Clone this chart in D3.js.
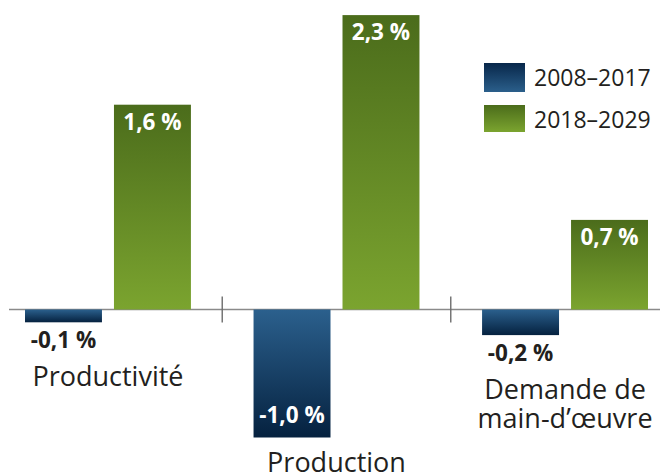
<!DOCTYPE html>
<html><head><meta charset="utf-8">
<script src="https://cdn.jsdelivr.net/npm/d3@7"></script>
<style>html,body{margin:0;padding:0;background:#fff;}svg{display:block;}</style>
</head><body>
<svg id="chart" width="660" height="475"></svg>
<script>
const categories = ["Productivité", "Production", "Demande de\nmain-d’œuvre"];
const series = ["2008–2017", "2018–2029"];
const values2008 = [-0.1, -1.0, -0.2];
const values2018 = [1.6, 2.3, 0.7];
const valueLabels2008 = ["-0,1 %", "-1,0 %", "-0,2 %"];
const valueLabels2018 = ["1,6 %", "2,3 %", "0,7 %"];

const svg = d3.select("#chart");
const W = 660, H = 475;
const textColor = "#231f20";
const font = "'Open Sans', sans-serif";

const defs = svg.append("defs");
function grad(id, top, bottom) {
  const g = defs.append("linearGradient").attr("id", id).attr("x1", 0).attr("y1", 0).attr("x2", 0).attr("y2", 1);
  g.append("stop").attr("offset", "0%").attr("stop-color", top);
  g.append("stop").attr("offset", "100%").attr("stop-color", bottom);
}
grad("blueNeg", "#2b608d", "#05213f");
grad("blueLeg", "#08274a", "#2b5f8b");
grad("green", "#4b6c1b", "#7ba42f");

const y = d3.scaleLinear().domain([0, 1]).range([309.5, 181.5]);
const x0 = d3.scaleBand().domain(categories).range([25, 648]).paddingInner(0.274).paddingOuter(0);
const x1 = d3.scaleBand().domain(series).range([0, x0.bandwidth()]).paddingInner(0.135);

const data = categories.map((c, i) => ({
  cat: c,
  bars: [
    { s: series[0], v: values2008[i], label: valueLabels2008[i] },
    { s: series[1], v: values2018[i], label: valueLabels2018[i] }
  ]
}));

// axis baseline
svg.append("line").attr("x1", 9).attr("x2", W).attr("y1", y(0)).attr("y2", y(0))
  .attr("stroke", "#8a8a8a").attr("stroke-width", 1.6);

// separator ticks between groups
const step = x0.step();
categories.slice(0, -1).forEach(c => {
  const tx = x0(c) + x0.bandwidth() + (step - x0.bandwidth()) / 2;
  svg.append("line").attr("x1", tx).attr("x2", tx).attr("y1", y(0) - 13).attr("y2", y(0) + 13)
    .attr("stroke", "#6d6d6d").attr("stroke-width", 1.4);
});

const groups = svg.selectAll("g.grp").data(data).join("g").attr("class", "grp")
  .attr("transform", d => `translate(${x0(d.cat)},0)`);

groups.selectAll("rect").data(d => d.bars).join("rect")
  .attr("x", b => x1(b.s))
  .attr("width", x1.bandwidth())
  .attr("y", b => b.v >= 0 ? y(b.v) : y(0))
  .attr("height", b => Math.abs(y(b.v) - y(0)))
  .attr("fill", b => b.v >= 0 ? "url(#green)" : "url(#blueNeg)");

// value labels
groups.each(function(d) {
  const g = d3.select(this);
  let labelY = y(0) + 38;
  d.bars.forEach(b => {
    const h = Math.abs(y(b.v) - y(0));
    const cx = x1(b.s) + x1.bandwidth() / 2;
    let ty, fill;
    if (b.v >= 0) {
      ty = y(b.v) + 25; fill = "#fff";
    } else if (h > 40) {
      ty = y(b.v) - 15; fill = "#fff";
      labelY = Math.max(labelY, y(b.v) + 34);
    } else {
      ty = y(b.v) + 26; fill = textColor;
      labelY = Math.max(labelY, ty + 38);
    }
    g.append("text").attr("x", cx).attr("y", ty).attr("text-anchor", "middle")
      .attr("font-family", font).attr("font-weight", "bold").attr("font-size", 22.5)
      .attr("fill", fill).text(b.label);
  });
  // category label
  const lines = d.cat.split("\n");
  const t = g.append("text").attr("text-anchor", "middle")
    .attr("font-family", font).attr("font-size", 27).attr("fill", textColor);
  lines.forEach((ln, i) => {
    t.append("tspan").attr("x", x0.bandwidth() / 2).attr("y", labelY + i * 28.5).text(ln);
  });
});

// legend
const legend = svg.append("g").attr("transform", "translate(484,63)");
series.forEach((s, i) => {
  const gy = i * 42;
  legend.append("rect").attr("x", 0).attr("y", gy).attr("width", 41).attr("height", i === 0 ? 29 : 27)
    .attr("fill", i === 0 ? "url(#blueLeg)" : "url(#green)");
  legend.append("text").attr("x", 50).attr("y", gy + 23).attr("font-family", font).attr("font-size", 23)
    .attr("fill", textColor).text(s);
});
</script>
</body></html>
